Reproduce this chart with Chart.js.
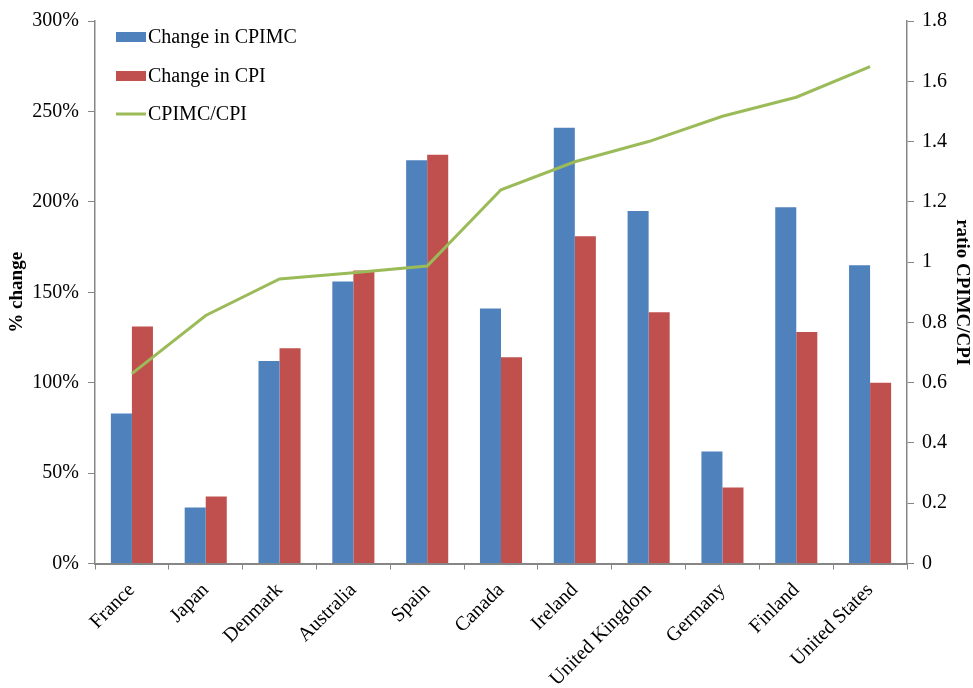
<!DOCTYPE html>
<html>
<head>
<meta charset="utf-8">
<script src="https://cdn.jsdelivr.net/npm/chart.js@4.4.1/dist/chart.umd.min.js"></script>
<style>
html,body{margin:0;padding:0;background:#fff;}
#wrap{width:973px;height:688px;position:relative;}
</style>
</head>
<body>
<div id="wrap"><canvas id="c"></canvas></div>
<script>
const categories = ["France","Japan","Denmark","Australia","Spain","Canada","Ireland","United Kingdom","Germany","Finland","United States"];
const changeCPIMC = [83, 31, 112, 156, 223, 141, 241, 195, 62, 197, 165];
const changeCPI   = [131, 37, 119, 162, 226, 114, 181, 139, 42, 128, 100];
const ratioCPIMCtoCPI = [0.63, 0.823, 0.944, 0.965, 0.987, 1.24, 1.333, 1.40, 1.484, 1.547, 1.649];
const leftTicks = [0, 50, 100, 150, 200, 250, 300];
const rightTicks = [0, 0.2, 0.4, 0.6, 0.8, 1, 1.2, 1.4, 1.6, 1.8];

const FONT = "'Liberation Serif', 'Times New Roman', serif";
const AXIS = '#868686';

const legendPlugin = {
  id: 'insideLegend',
  afterDraw(chart) {
    const ctx = chart.ctx;
    const ca = chart.chartArea;
    const x0 = ca.left + 21, rows = [ca.top + 16, ca.top + 55, ca.top + 93];
    ctx.save();
    ctx.font = "20px " + FONT;
    ctx.textBaseline = 'middle';
    [0, 1, 2].forEach((di, i) => {
      const ds = chart.data.datasets[di];
      const y = rows[i];
      if (ds.type === 'line') {
        ctx.strokeStyle = ds.borderColor;
        ctx.lineWidth = 3;
        ctx.beginPath(); ctx.moveTo(x0, y); ctx.lineTo(x0 + 30, y); ctx.stroke();
      } else {
        ctx.fillStyle = ds.backgroundColor;
        ctx.fillRect(x0, y - 5, 30, 10);
      }
      ctx.fillStyle = '#000';
      ctx.fillText(ds.label, x0 + 32, y + 1);
    });
    ctx.restore();
  }
};

new Chart(document.getElementById('c'), {
  type: 'bar',
  data: {
    labels: categories,
    datasets: [
      { label: 'Change in CPIMC', data: changeCPIMC, backgroundColor: '#4F81BD', yAxisID: 'y', order: 2,
        categoryPercentage: 0.57, barPercentage: 1.0 },
      { label: 'Change in CPI', data: changeCPI, backgroundColor: '#C0504D', yAxisID: 'y', order: 2,
        categoryPercentage: 0.57, barPercentage: 1.0 },
      { type: 'line', label: 'CPIMC/CPI', data: ratioCPIMCtoCPI, borderColor: '#9BBB59', backgroundColor: '#9BBB59',
        borderWidth: 3, pointRadius: 0, tension: 0, yAxisID: 'y1', order: 0 }
    ]
  },
  options: {
    responsive: true,
    maintainAspectRatio: false,
    animation: false,
    devicePixelRatio: 1,
    layout: { padding: { top: 17, left: 0, right: 0, bottom: 0 } },
    plugins: { legend: { display: false }, tooltip: { enabled: false } },
    scales: {
      x: {
        grid: { display: true, drawOnChartArea: false, drawTicks: true, tickLength: 6, color: AXIS, offset: true },
        border: { display: true, color: AXIS, width: 2 },
        ticks: { color: '#000', font: { family: FONT, size: 20 }, maxRotation: 45, minRotation: 45, padding: 9, autoSkip: false },
        afterFit(s) { s.height = 124.5; }
      },
      y: {
        position: 'left',
        min: 0, max: 300,
        afterBuildTicks(s) { s.ticks = leftTicks.map(v => ({ value: v })); },
        grid: { display: true, drawOnChartArea: false, drawTicks: true, tickLength: 7, color: AXIS },
        border: { display: true, color: AXIS, width: 1.5 },
        ticks: { color: '#000', font: { family: FONT, size: 20 }, padding: 9, callback: v => v + '%' },
        title: { display: true, text: '% change', color: '#000', font: { family: FONT, size: 19, weight: 'bold' }, padding: { top: 6, bottom: 0 } },
        afterFit(s) { s.width = 95; }
      },
      y1: {
        position: 'right',
        min: 0, max: 1.8,
        afterBuildTicks(s) { s.ticks = rightTicks.map(v => ({ value: v })); },
        grid: { display: true, drawOnChartArea: false, drawTicks: true, tickLength: 7, color: AXIS },
        border: { display: true, color: AXIS, width: 1.5 },
        ticks: { color: '#000', font: { family: FONT, size: 20 }, padding: 8, callback: v => String(Math.round(v * 10) / 10) },
        title: { display: true, text: 'ratio CPIMC/CPI', color: '#000', font: { family: FONT, size: 19, weight: 'bold' }, padding: { top: 0, bottom: 0 } },
        afterFit(s) { s.width = 66; }
      }
    }
  },
  plugins: [legendPlugin]
});
</script>
</body>
</html>
